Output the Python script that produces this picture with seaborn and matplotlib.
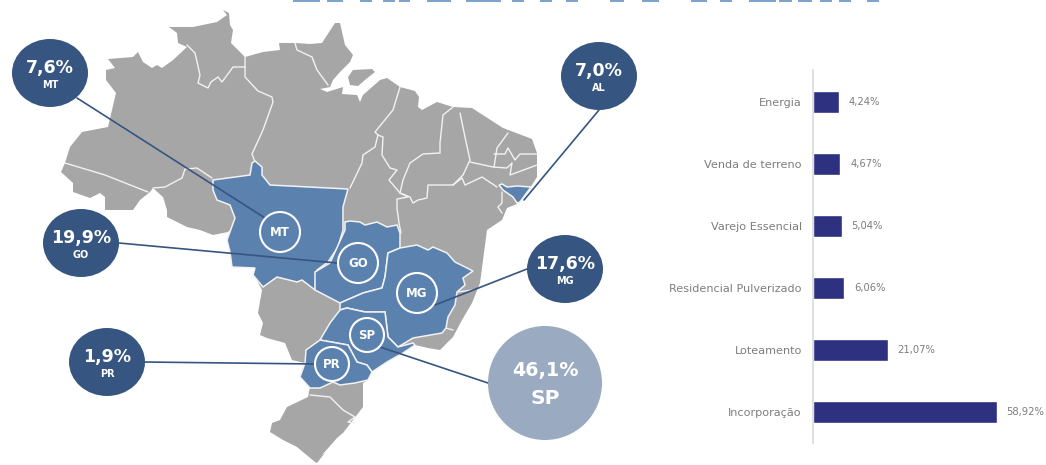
import matplotlib
matplotlib.use("Agg")
import matplotlib.pyplot as plt
from matplotlib.patches import Ellipse, Polygon, Rectangle
import seaborn as sns
import pandas as pd

# bar chart values
segmentos = ["Energia", "Venda de terreno", "Varejo Essencial",
             "Residencial Pulverizado", "Loteamento", "Incorporação"]
participacao = [4.24, 4.67, 5.04, 6.06, 21.07, 58.92]
rotulos_barras = ["4,24%", "4,67%", "5,04%", "6,06%", "21,07%", "58,92%"]
# the bars in the picture do not start at zero, they carry this extra length
base_barra = 4.86

# callouts on the map
estados = ["MT", "AL", "GO", "MG", "PR", "SP"]
percentuais = ["7,6%", "7,0%", "19,9%", "17,6%", "1,9%", "46,1%"]

COR_ESCURA = "#365580"
COR_CLARA = "#9aaac0"
COR_MAPA = "#5b82ae"
COR_CINZA = "#a6a6a6"
COR_BARRA = "#2e3180"
COR_TEXTO = "#7d7d7d"
FONTE = "DejaVu Sans"

# map outlines, in pixels of the image
brasil = [(108,59),(133,57),(138,52),(143,62),(152,68),(157,65),(162,68),(173,60),(187,47),(178,43),(177,33),
          (169,27),(193,27),(217,22),(227,15),(223,10),(229,13),(230,25),(233,30),(231,43),(245,57),(263,52),
          (280,50),(279,43),(295,43),(310,44),(322,43),(335,23),(340,23),(345,45),(353,55),(350,62),(340,72),
          (333,80),(330,87),(320,89),(327,92),(343,87),(342,94),(357,95),(360,102),(363,95),(380,80),(387,78),
          (400,87),(415,91),(419,97),(418,107),(422,110),(437,102),(453,107),(472,108),(503,128),(532,139),
          (537,153),(537,177),(530,188),(517,204),(507,208),(502,220),(487,230),(480,283),(472,303),(462,320),
          (453,337),(440,350),(428,348),(415,345),(403,353),(387,362),(372,372),(368,380),(363,383),(363,407),
          (353,420),(343,433),(327,450),(317,463),(315,462),(297,447),(283,440),(270,432),(272,423),(280,420),
          (287,407),(308,397),(310,387),(300,377),(305,363),(292,360),(285,343),(267,338),(260,335),(263,323),
          (258,313),(262,290),(253,273),(255,268),(232,267),(230,252),(227,240),(233,227),(228,232),(213,235),
          (200,230),(187,227),(167,217),(167,210),(163,197),(153,188),(150,192),(140,200),(133,210),(105,210),
          (105,197),(100,193),(90,198),(73,192),(73,183),(61,172),(65,163),(70,147),(82,132),(108,127),(116,93),
          (106,80),(106,70),(115,68)]
marajo = [(348,77),(353,70),(372,69),(375,72),(365,80),(358,86),(350,85)]
lagoa = [(343,433),(337,438),(322,455),(325,453),(340,440)]

mato_grosso = [(213,180),(250,175),(252,163),(255,161),(262,167),(262,175),(270,185),(348,189),(343,207),(343,230),
               (338,247),(328,262),(317,270),(315,290),(302,280),(297,282),(277,277),(263,287),(253,275),(255,268),
               (232,267),(230,252),(227,240),(235,218),(230,205),(217,200),(213,190)]
goias = [(345,222),(350,221),(360,222),(365,225),(377,222),(387,227),(397,225),(400,233),(400,248),(388,253),
         (385,277),(382,288),(363,293),(340,303),(315,290),(315,272),(330,263),(345,230)]
minas = [(388,253),(400,248),(417,245),(428,250),(433,247),(447,253),(455,262),(473,271),(463,278),(465,285),
         (457,292),(455,305),(448,317),(446,328),(442,333),(413,338),(398,347),(388,337),(385,312),(365,312),(347,308),
         (340,310),(340,303),(363,293),(382,288),(385,277)]
sao_paulo = [(340,310),(347,308),(365,312),(385,312),(388,337),(398,347),(413,343),(415,345),(403,353),(387,362),
             (372,372),(367,365),(357,362),(348,345),(320,340),(330,323)]
parana = [(320,340),(348,345),(357,362),(367,365),(372,372),(368,380),(355,383),(340,385),(333,382),(320,388),
          (310,388),(300,377),(305,363),(306,350)]
alagoas = [(499,185),(503,190),(513,197),(517,203),(520,202),(531,187),(517,186),(507,187),(502,184)]
azuis = [mato_grosso, goias, minas, sao_paulo, parana, alagoas]

divisas = [
    [(65,163),(105,175),(148,192)],
    [(153,188),(165,187),(182,178),(185,169),(197,168),(212,178)],
    [(187,45),(195,53),(200,75),(198,83),(208,88),(211,82),(218,77),(222,82),(233,67),(245,67)],
    [(245,57),(245,77),(258,91),(272,97),(273,102),(263,130),(252,154),(255,162)],
    [(295,43),(297,50),(312,57),(317,70),(328,85)],
    [(400,87),(393,110),(375,132),(378,135),(375,147),(363,155),(362,163),(350,188)],
    [(378,135),(383,137),(382,155),(390,168),(397,170),(389,180),(400,193),(408,197),(397,199),(397,208),(399,223),(401,233)],
    [(453,107),(443,115),(440,143),(440,153),(423,154),(410,163),(403,180),(400,193)],
    [(460,113),(465,137),(470,160),(463,175),(453,185)],
    [(400,193),(410,197),(413,203),(418,200),(427,198),(428,185),(453,185),(462,178),(465,185),(482,177),(497,187)],
    [(470,162),(493,167),(507,168),(512,163),(510,175),(537,165)],
    [(508,133),(497,148),(494,167)],
    [(494,154),(505,154),(508,148),(515,160),(520,154),(537,154)],
    [(502,192),(502,203),(498,207),(502,213)],
    [(457,292),(473,290)],
    [(446,328),(453,330)],
    [(310,395),(330,397),(343,410),(355,417),(348,422),(355,423)],
]

# where each callout sits: centre x, centre y, radius x, radius y, end of the leader line
posicoes = {
    "MT": (50, 73, 38, 34, (77, 98), (265, 218)),
    "AL": (599, 76, 38, 34, (599, 110), (524, 200)),
    "GO": (81, 243, 38, 34, (119, 243), (337, 263)),
    "MG": (565, 269, 38, 34, (527, 269), (435, 305)),
    "PR": (107, 362, 38, 34, (144, 362), (315, 364)),
    "SP": (545, 383, 57, 57, (488, 383), (380, 347)),
}
selos = {"MT": (280, 232, 20), "GO": (358, 263, 20), "MG": (417, 293, 20), "SP": (367, 335, 17), "PR": (332, 364, 17)}

# what is left of the cropped heading on the top edge
restos_titulo = [(293,320),(327,343),(360,372),(383,395),(399,410),(427,451),(466,501),(512,524),(540,552),(566,578),
                 (610,624),(642,659),(691,707),(720,732),(749,776),(779,792),(798,812),(820,832),(839,851),(867,879)]

sns.set_theme(style="white")
plt.rcParams["font.family"] = [FONTE]

fig = plt.figure(figsize=(10.46, 4.65), dpi=100)

# map layer uses image pixels directly
mapa = fig.add_axes([0, 0, 1, 1])
mapa.set_xlim(0, 1046)
mapa.set_ylim(465, 0)
mapa.axis("off")

for forma in [brasil, marajo]:
    mapa.add_patch(Polygon(forma, closed=True, facecolor=COR_CINZA, edgecolor="none", zorder=1))
mapa.add_patch(Polygon(lagoa, closed=True, facecolor="white", edgecolor="none", zorder=2))
for linha in divisas:
    mapa.plot([p[0] for p in linha], [p[1] for p in linha], color="#f2f2f2", lw=1, zorder=2)
for forma in azuis:
    mapa.add_patch(Polygon(forma, closed=True, facecolor=COR_MAPA, edgecolor="#f2f2f2", lw=1.1, zorder=3))

for x0, x1 in restos_titulo:
    mapa.add_patch(Rectangle((x0, 0), x1 - x0, 1.6, facecolor="#7fa3cf", edgecolor="none", zorder=1))

for uf, pct in zip(estados, percentuais):
    cx, cy, rx, ry, ini, fim = posicoes[uf]
    mapa.plot([ini[0], fim[0]], [ini[1], fim[1]], color=COR_ESCURA, lw=1.2, zorder=4)
    cor = COR_CLARA if uf == "SP" else COR_ESCURA
    mapa.add_patch(Ellipse((cx, cy), 2 * rx, 2 * ry, facecolor=cor, edgecolor="none", zorder=5))
    if uf == "SP":
        mapa.text(cx, cy - 13, pct, color="white", fontsize=13.8, fontweight="bold", ha="center", va="center", zorder=6)
        mapa.text(cx, cy + 15, uf, color="white", fontsize=14.5, fontweight="bold", ha="center", va="center", zorder=6)
    else:
        mapa.text(cx, cy - 5, pct, color="white", fontsize=12.5, fontweight="bold", ha="center", va="center", zorder=6)
        mapa.text(cx, cy + 12, uf, color="white", fontsize=7, fontweight="bold", ha="center", va="center", zorder=6)

for uf, (cx, cy, r) in selos.items():
    mapa.add_patch(Ellipse((cx, cy), 2 * r, 2 * r, facecolor=COR_MAPA, edgecolor="white", lw=1.5, zorder=5))
    mapa.text(cx, cy, uf, color="white", fontsize=8.5, fontweight="bold", ha="center", va="center", zorder=6)

# bars
df = pd.DataFrame({"segmento": segmentos, "valor": participacao})
df["barra"] = df["valor"] + base_barra

ax = fig.add_axes([813 / 1046, 1 - 443 / 465, 233 / 1046, 373 / 465])
ax.patch.set_alpha(0)
sns.barplot(data=df, x="barra", y="segmento", color=COR_BARRA, saturation=1, width=0.354, ax=ax)
ax.set_xlim(0, 233 / 2.88)
ax.set_ylim(5.496, -0.51)
ax.set_xlabel("")
ax.set_ylabel("")
ax.set_xticks([])
ax.tick_params(axis="y", length=0, pad=8, labelsize=8.15, labelcolor=COR_TEXTO)
sns.despine(ax=ax, top=True, right=True, bottom=True)
ax.spines["left"].set_color("#d9d9d9")
ax.spines["left"].set_linewidth(1.2)
ax.bar_label(ax.containers[0], labels=rotulos_barras, padding=7, fontsize=7.2, color=COR_TEXTO)

fig.savefig("out.png", dpi=100)
